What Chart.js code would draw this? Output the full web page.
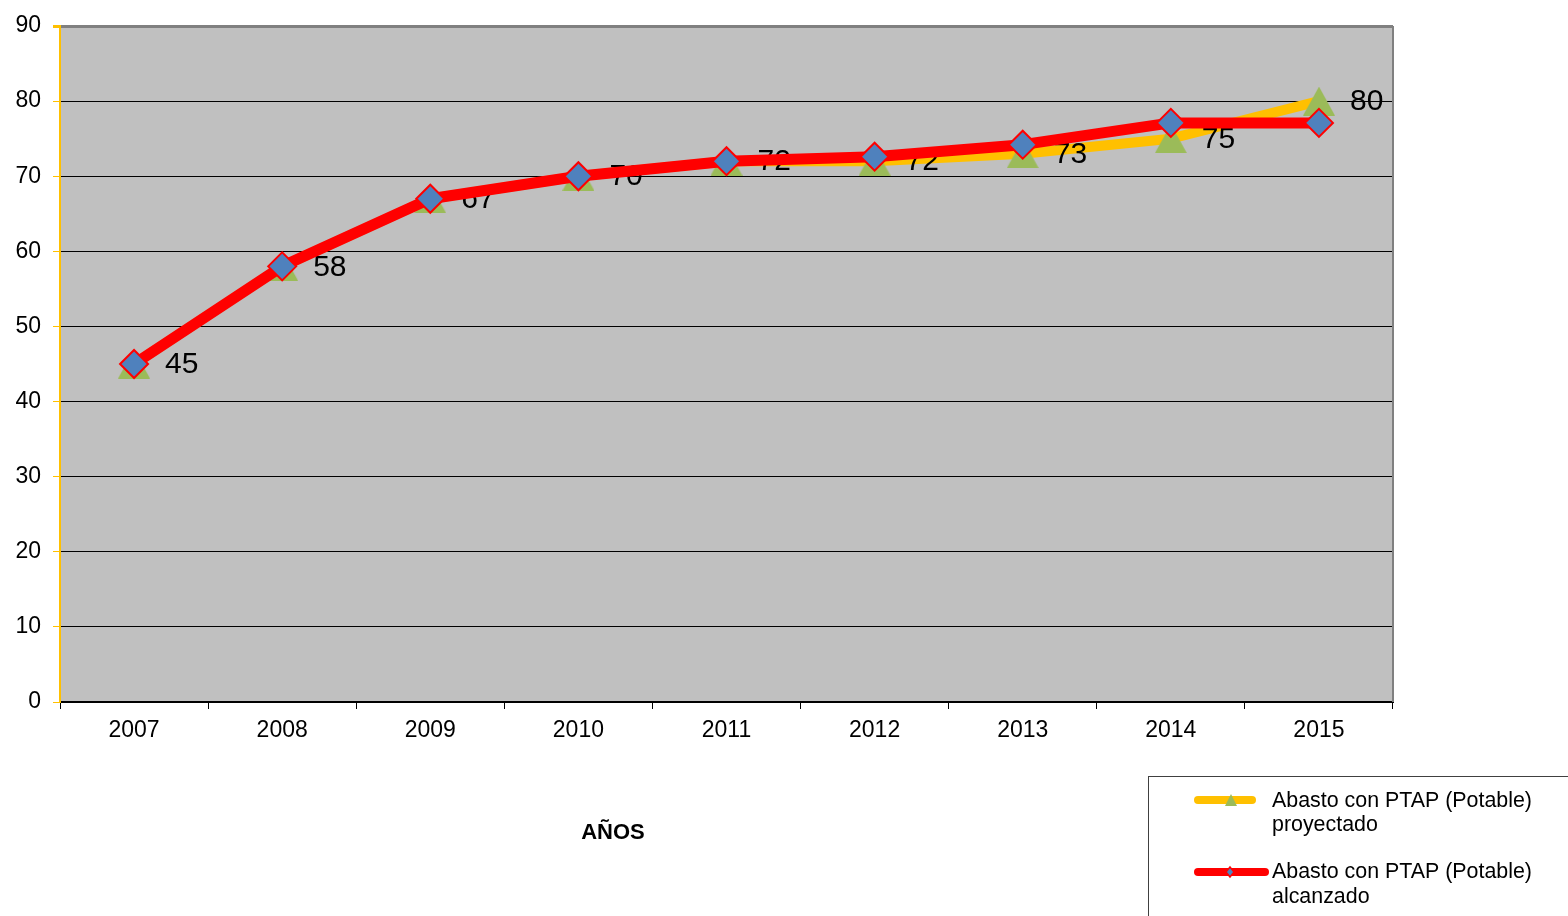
<!DOCTYPE html>
<html>
<head>
<meta charset="utf-8">
<script src="https://cdn.jsdelivr.net/npm/chart.js@4/dist/chart.umd.min.js"></script>
<style>
  html, body { margin: 0; padding: 0; background: #fff; }
  #wrap { width: 1568px; height: 916px; }
</style>
</head>
<body>
<div id="wrap"><canvas id="c" width="1568" height="916"></canvas></div>
<script>
var years = ['2007', '2008', '2009', '2010', '2011', '2012', '2013', '2014', '2015'];
var proyectado = [45, 58, 67, 70, 72, 72, 73, 75, 80];
var alcanzado = [45, 58, 67, 70, 72, 72.6, 74.2, 77.1, 77.1];
var yMin = 0, yMax = 90, yStep = 10;
var serieNames = [
  ['Abasto con PTAP (Potable)', 'proyectado'],
  ['Abasto con PTAP (Potable)', 'alcanzado']
];
var xTitle = 'AÑOS';

var FONT = '"Liberation Sans", Arial, sans-serif';

// Excel-style triangle marker, centred in its box
var tri = document.createElement('canvas');
tri.width = 32; tri.height = 29;
(function() {
  var t = tri.getContext('2d');
  t.fillStyle = '#9BBB59';
  t.beginPath();
  t.moveTo(16, 0); t.lineTo(32, 29); t.lineTo(0, 29);
  t.closePath();
  t.fill();
})();

// gray plot background
var plotBg = {
  id: 'plotBg',
  beforeDraw: function(chart) {
    var a = chart.chartArea, ctx = chart.ctx;
    ctx.save();
    ctx.fillStyle = '#C0C0C0';
    ctx.fillRect(a.left, a.top, a.right - a.left, a.bottom - a.top);
    ctx.restore();
  }
};

// value labels of the projected series, drawn before the red line
var valueLabels = {
  id: 'valueLabels',
  afterDatasetDraw: function(chart, args) {
    if (args.index !== 0) return;
    var ctx = chart.ctx;
    var meta = chart.getDatasetMeta(0);
    ctx.save();
    ctx.font = '30px ' + FONT;
    ctx.fillStyle = '#000';
    ctx.textAlign = 'left';
    ctx.textBaseline = 'middle';
    meta.data.forEach(function(pt, i) {
      ctx.fillText(String(proyectado[i]), pt.x + 31, pt.y + 1);
    });
    ctx.restore();
  }
};

// right border, axis title and boxed legend
var extras = {
  id: 'extras',
  afterDraw: function(chart) {
    var a = chart.chartArea, ctx = chart.ctx;
    ctx.save();
    ctx.strokeStyle = '#808080';
    ctx.lineWidth = 2;
    ctx.beginPath();
    ctx.moveTo(a.right, a.top);
    ctx.lineTo(a.right, a.bottom);
    ctx.stroke();

    ctx.fillStyle = '#000';
    ctx.font = 'bold 22px ' + FONT;
    ctx.textAlign = 'center';
    ctx.textBaseline = 'middle';
    ctx.fillText(xTitle, 613, 833);

    // legend box
    ctx.strokeStyle = '#404040';
    ctx.lineWidth = 1;
    ctx.strokeRect(1148.5, 776.5, 600, 300);

    ctx.lineCap = 'round';
    ctx.lineWidth = 8;
    ctx.strokeStyle = '#FFC000';
    ctx.beginPath(); ctx.moveTo(1198, 800); ctx.lineTo(1252, 800); ctx.stroke();
    ctx.fillStyle = '#9BBB59';
    ctx.beginPath(); ctx.moveTo(1231, 794); ctx.lineTo(1237, 806); ctx.lineTo(1225, 806); ctx.closePath(); ctx.fill();

    ctx.strokeStyle = '#FF0000';
    ctx.beginPath(); ctx.moveTo(1198, 872); ctx.lineTo(1265, 872); ctx.stroke();
    ctx.fillStyle = '#4F81BD';
    ctx.strokeStyle = '#FF0000';
    ctx.lineWidth = 1.5;
    ctx.beginPath(); ctx.moveTo(1230, 867); ctx.lineTo(1234, 872); ctx.lineTo(1230, 877); ctx.lineTo(1226, 872); ctx.closePath(); ctx.fill(); ctx.stroke();

    ctx.fillStyle = '#000';
    ctx.font = '21.4px ' + FONT;
    ctx.textAlign = 'left';
    ctx.fillText(serieNames[0][0], 1272, 801);
    ctx.fillText(serieNames[0][1], 1272, 825);
    ctx.fillText(serieNames[1][0], 1272, 872);
    ctx.fillText(serieNames[1][1], 1272, 897);
    ctx.restore();
  }
};

new Chart(document.getElementById('c'), {
  type: 'line',
  data: {
    labels: years,
    datasets: [
      {
        label: serieNames[0].join(' '),
        data: proyectado,
        order: 1,
        borderColor: '#FFC000',
        borderWidth: 10,
        borderJoinStyle: 'round',
        pointStyle: tri,
        pointRadius: 16,
        tension: 0
      },
      {
        label: serieNames[1].join(' '),
        data: alcanzado,
        order: 0,
        borderColor: '#FF0000',
        borderWidth: 11,
        borderJoinStyle: 'round',
        pointStyle: 'rectRot',
        pointRadius: 14,
        pointBackgroundColor: '#4F81BD',
        pointBorderColor: '#FF0000',
        pointBorderWidth: 2,
        tension: 0
      }
    ]
  },
  options: {
    responsive: false,
    animation: false,
    layout: { padding: { top: 23, right: 175, left: 0, bottom: 0 } },
    plugins: {
      legend: { display: false },
      tooltip: { enabled: false }
    },
    scales: {
      x: {
        offset: true,
        afterFit: function(scale) { scale.height = 214; },
        grid: {
          offset: true,
          drawOnChartArea: false,
          tickLength: 7,
          tickColor: '#000'
        },
        border: { color: '#000', width: 2 },
        ticks: { color: '#000', font: { family: FONT, size: 23 }, padding: 8 }
      },
      y: {
        min: yMin,
        max: yMax,
        afterFit: function(scale) { scale.width = 60; },
        grid: {
          color: function(c) { return c.tick && c.tick.value === yMax ? '#808080' : '#000'; },
          lineWidth: function(c) { return c.tick && c.tick.value === yMax ? 3 : 1; },
          tickLength: 7,
          tickColor: '#FFC000'
        },
        border: { color: '#FFC000', width: 2 },
        ticks: { stepSize: yStep, color: '#000', font: { family: FONT, size: 23 }, padding: 12 }
      }
    }
  },
  plugins: [plotBg, valueLabels, extras]
});
</script>
</body>
</html>
